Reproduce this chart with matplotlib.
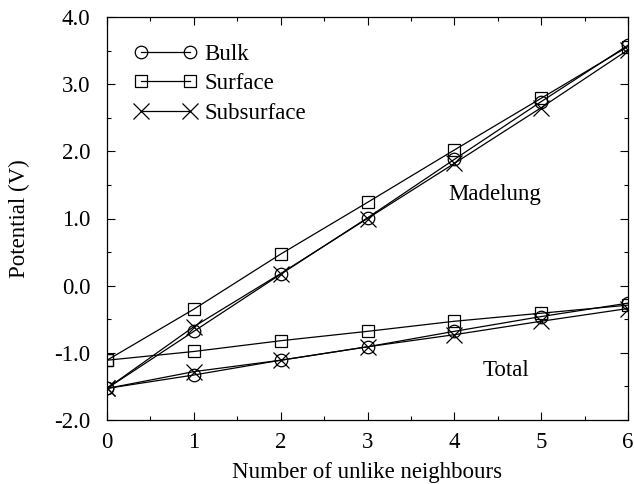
import matplotlib
matplotlib.use("Agg")
import matplotlib.pyplot as plt
from matplotlib.ticker import MultipleLocator, FormatStrFormatter

plt.rcParams['font.family'] = ['Liberation Serif', 'DejaVu Serif']
plt.rcParams['axes.unicode_minus'] = False

neighbours = [0, 1, 2, 3, 4, 5, 6]

# Madelung potential
madelung_bulk = [-1.53, -0.68, 0.17, 1.01, 1.88, 2.74, 3.58]
madelung_surface = [-1.11, -0.35, 0.47, 1.24, 2.02, 2.79, 3.56]
madelung_subsurface = [-1.53, -0.61, 0.18, 1.00, 1.82, 2.65, 3.51]

# Total potential
total_bulk = [-1.53, -1.33, -1.11, -0.91, -0.68, -0.46, -0.26]
total_surface = [-1.11, -0.98, -0.82, -0.68, -0.53, -0.41, -0.29]
total_subsurface = [-1.53, -1.28, -1.11, -0.91, -0.73, -0.53, -0.34]

FS = 16.5

fig = plt.figure(figsize=(6.34, 4.84), dpi=100)
ax = fig.add_axes([107/634, 1 - 420/484, (628-107)/634, (420-17)/484])

style = dict(color='black', linewidth=0.9, markerfacecolor='none',
             markeredgecolor='black', markeredgewidth=0.9)

ax.plot(neighbours, madelung_bulk, marker='o', markersize=9, label='Bulk', **style)
ax.plot(neighbours, madelung_surface, marker='s', markersize=9, label='Surface', **style)
ax.plot(neighbours, madelung_subsurface, marker='x', markersize=11, label='Subsurface', **style)
ax.plot(neighbours, total_bulk, marker='o', markersize=9, **style)
ax.plot(neighbours, total_surface, marker='s', markersize=9, **style)
ax.plot(neighbours, total_subsurface, marker='x', markersize=11, **style)

ax.set_xlim(0, 6)
ax.set_ylim(-2.0, 4.0)
ax.xaxis.set_major_locator(MultipleLocator(1))
ax.xaxis.set_minor_locator(MultipleLocator(0.5))
ax.yaxis.set_major_locator(MultipleLocator(1))
ax.yaxis.set_minor_locator(MultipleLocator(0.5))
ax.yaxis.set_major_formatter(FormatStrFormatter('%.1f'))
ax.tick_params(which='both', direction='in', top=True, right=True, labelsize=FS, width=0.8)
ax.tick_params(which='major', length=6)
ax.tick_params(which='minor', length=3)
ax.tick_params(axis='y', which='major', pad=12)
ax.tick_params(axis='x', which='major', pad=9)
for s in ax.spines.values():
    s.set_linewidth(0.9)

ax.set_xlabel('Number of unlike neighbours', fontsize=FS, labelpad=6)
ax.set_ylabel('Potential (V)', fontsize=FS, labelpad=17)

ax.text(4.47, 1.36, 'Madelung', fontsize=FS, ha='center', va='center')
ax.text(4.595, -1.26, 'Total', fontsize=FS, ha='center', va='center')

ax.legend(loc='upper left', bbox_to_anchor=(0.052, 0.933), frameon=False, fontsize=FS,
          handlelength=2.76, handletextpad=0.3, labelspacing=0.36, borderaxespad=0.0,
          borderpad=0.0, numpoints=2)

fig.savefig('out.png', dpi=100)
